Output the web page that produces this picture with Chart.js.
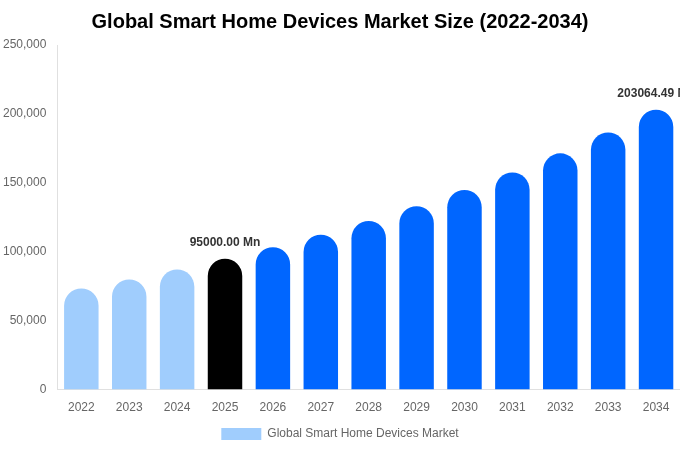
<!DOCTYPE html>
<html><head><meta charset="utf-8">
<script src="https://cdn.jsdelivr.net/npm/chart.js@4"></script>
<style>html,body{margin:0;padding:0;background:#fff}#wrap{width:680px;height:450px}</style>
</head><body><div id="wrap"><canvas id="c"></canvas></div>
<script>
const categories = ['2022','2023','2024','2025','2026','2027','2028','2029','2030','2031','2032','2033','2034'];
const marketValues = [73400, 79900, 87100, 95000, 103300, 112400, 122300, 133100, 144800, 157500, 171400, 186500, 203064.49];
const barColors = ['#a0cdfd','#a0cdfd','#a0cdfd','#000000','#0066ff','#0066ff','#0066ff','#0066ff','#0066ff','#0066ff','#0066ff','#0066ff','#0066ff'];
const labeledIndexes = [3, 12];
const seriesName = 'Global Smart Home Devices Market';
const titleText = 'Global Smart Home Devices Market Size (2022-2034)';

const valueLabels = {
  id: 'valueLabels',
  afterDatasetsDraw(chart) {
    const ctx = chart.ctx;
    const meta = chart.getDatasetMeta(0);
    ctx.save();
    ctx.font = 'bold 12px "Liberation Sans", Arial, sans-serif';
    ctx.fillStyle = '#333';
    ctx.textAlign = 'center';
    ctx.textBaseline = 'bottom';
    labeledIndexes.forEach(i => {
      const el = meta.data[i];
      ctx.fillText(marketValues[i].toFixed(2) + ' Mn', el.x, el.y - 10);
    });
    ctx.restore();
  }
};

Chart.defaults.font.family = '"Liberation Sans", Arial, sans-serif';
new Chart(document.getElementById('c'), {
  type: 'bar',
  data: {
    labels: categories,
    datasets: [{
      label: seriesName,
      data: marketValues,
      backgroundColor: barColors,
      borderRadius: {topLeft: 60, topRight: 60},
      borderSkipped: 'bottom'
    }]
  },
  options: {
    responsive: true,
    maintainAspectRatio: false,
    animation: false,
    layout: {padding: {left: 0, right: 0, top: 0, bottom: 0}},
    plugins: {
      title: {display: true, text: titleText, color: '#000', font: {size: 20, weight: 'bold'}, padding: {top: 10, bottom: 11}},
      legend: {
        position: 'bottom',
        labels: {
          color: '#666', font: {size: 12}, boxWidth: 40, boxHeight: 12,
          generateLabels: (chart) => [{text: seriesName, fillStyle: barColors[0], strokeStyle: barColors[0], fontColor: '#666', lineWidth: 0, datasetIndex: 0}]
        }
      },
      tooltip: {enabled: false}
    },
    scales: {
      x: {
        grid: {display: false},
        border: {display: true, color: '#e0e0e0'},
        ticks: {color: '#666', font: {size: 12}, padding: 3}
      },
      y: {
        min: 0, max: 250000,
        grid: {display: false},
        border: {display: true, color: '#e0e0e0'},
        ticks: {stepSize: 50000, color: '#666', font: {size: 12}, padding: 3,
          callback: v => v.toLocaleString('en-US')}
      }
    }
  },
  plugins: [valueLabels]
});
</script></body></html>
